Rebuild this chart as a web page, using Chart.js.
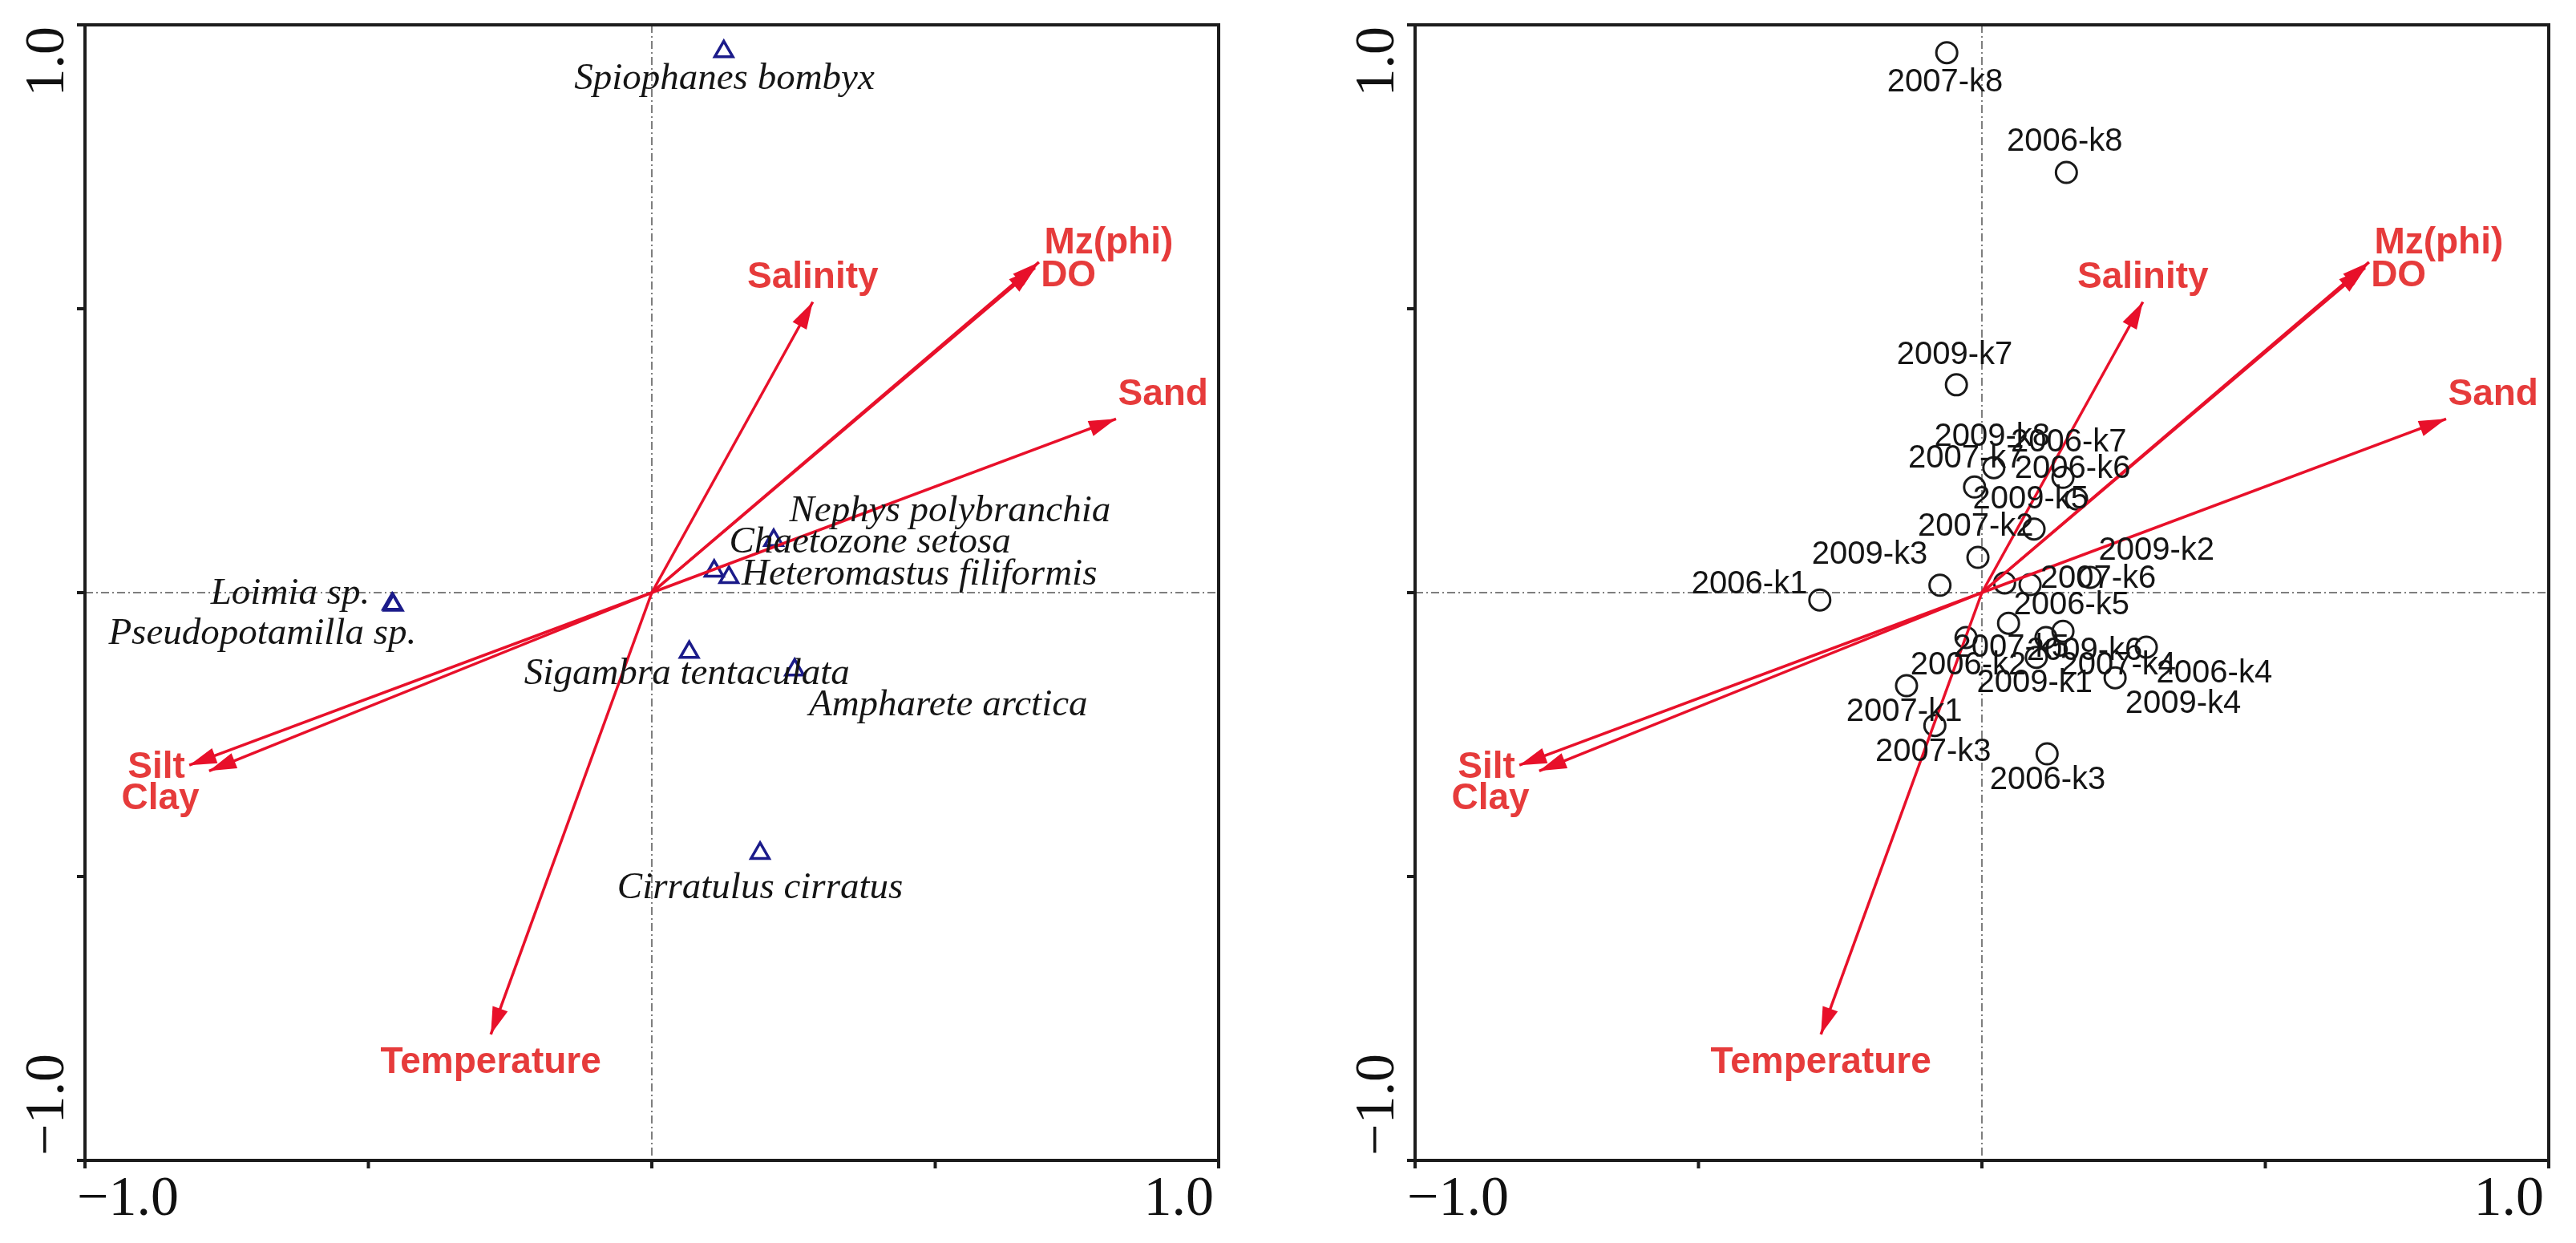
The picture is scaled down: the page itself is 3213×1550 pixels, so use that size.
<!DOCTYPE html>
<html>
<head>
<meta charset="utf-8">
<script src="https://cdn.jsdelivr.net/npm/chart.js@4.4.1/dist/chart.umd.min.js"></script>
<style>
  html, body { margin: 0; padding: 0; background: #fff; }
  #wrap { position: relative; width: 3213px; height: 1550px; }
  .panel { position: absolute; top: 0; }
</style>
</head>
<body>
<div id="wrap">
  <div class="panel" style="left:0"><canvas id="speciesChart" width="1606" height="1550"></canvas></div>
  <div class="panel" style="left:1606px"><canvas id="samplesChart" width="1607" height="1550"></canvas></div>
</div>
<script>
// ---- environmental variables (biplot arrows, same in both panels) ----
const envNames  = ['Salinity', 'Mz(phi)', 'DO', 'Sand', 'Silt', 'Clay', 'Temperature'];
const envX      = [0.284, 0.683, 0.676, 0.819, -0.816, -0.781, -0.284];
const envY      = [0.512, 0.582, 0.572, 0.306, -0.304, -0.314, -0.778];
const envLabelX = [0.284, 0.806, 0.735, 0.902, -0.874, -0.867, -0.284];
const envLabelY = [0.555, 0.616, 0.558, 0.349, -0.308, -0.363, -0.828];

// ---- species scores (left panel) ----
const speciesNames  = ['Spiophanes bombyx', 'Nephys polybranchia', 'Chaetozone setosa', 'Heteromastus filiformis',
                       'Loimia sp.', 'Pseudopotamilla sp.', 'Sigambra tentaculata', 'Ampharete arctica', 'Cirratulus cirratus'];
const speciesX      = [0.127, 0.215, 0.110, 0.136, -0.458, -0.456, 0.066, 0.252, 0.191];
const speciesY      = [0.953, 0.092, 0.038, 0.027, -0.020, -0.022, -0.105, -0.136, -0.459];
const speciesLabelX = [0.128, 0.526, 0.385, 0.472, -0.638, -0.687, 0.062, 0.523, 0.191];
const speciesLabelY = [0.904, 0.143, 0.088, 0.031, -0.003, -0.073, -0.143, -0.199, -0.520];

// ---- sample scores (right panel) ----
const sampleNames  = ['2007-k8', '2006-k8', '2009-k7', '2009-k8', '2007-k7', '2006-k7', '2006-k6', '2009-k5',
                      '2007-k2', '2009-k3', '2006-k1', '2007-k6', '2009-k2', '2006-k5', '2007-k4', '2006-k2',
                      '2007-k5', '2009-k6', '2009-k1', '2006-k4', '2009-k4', '2007-k1', '2007-k3', '2006-k3'];
const sampleX      = [-0.062, 0.149, -0.045, 0.021, -0.013, 0.143, 0.167, 0.092,
                      -0.007, -0.074, -0.286, 0.085, 0.191, 0.047, 0.040, -0.028,
                      0.113, 0.143, 0.096, 0.290, 0.235, -0.133, -0.083, 0.115];
const sampleY      = [0.951, 0.740, 0.366, 0.220, 0.186, 0.203, 0.165, 0.112,
                      0.062, 0.013, -0.013, 0.014, 0.027, -0.054, 0.017, -0.079,
                      -0.079, -0.068, -0.114, -0.096, -0.150, -0.164, -0.234, -0.284];
const sampleLabelX = [-0.065, 0.146, -0.048, 0.018, -0.028, 0.153, 0.160, 0.086,
                      -0.011, -0.198, -0.410, 0.205, 0.308, 0.158, 0.240, -0.024,
                      0.052, 0.181, 0.093, 0.410, 0.355, -0.137, -0.086, 0.116];
const sampleLabelY = [0.898, 0.794, 0.418, 0.274, 0.236, 0.264, 0.218, 0.164,
                      0.116, 0.066, 0.014, 0.024, 0.073, -0.023, -0.129, -0.129,
                      -0.097, -0.103, -0.160, -0.143, -0.196, -0.210, -0.281, -0.331];

// ---- axes ----
const axisTicks = [-1, -0.5, 0, 0.5, 1];
const axisMinLabel = '\u22121.0';
const axisMaxLabel = '1.0';

const ARROW_RED = '#e8102a';
const LABEL_RED = '#e63b3b';

// frame, zero lines, ticks and the two end labels of each axis
const frameAndAxes = {
    id: 'frameAndAxes',
    beforeDatasetsDraw(chart) {
        const { ctx, chartArea: a, scales: { x, y } } = chart;
        ctx.save();
        ctx.strokeStyle = '#7e7e7e';
        ctx.lineWidth = 2;
        ctx.setLineDash([10, 4, 2, 4]);
        ctx.beginPath();
        ctx.moveTo(x.getPixelForValue(0), a.top);
        ctx.lineTo(x.getPixelForValue(0), a.bottom);
        ctx.moveTo(a.left, y.getPixelForValue(0));
        ctx.lineTo(a.right, y.getPixelForValue(0));
        ctx.stroke();
        ctx.setLineDash([]);

        ctx.strokeStyle = '#1c1c1c';
        ctx.lineWidth = 4;
        ctx.strokeRect(a.left, a.top, a.right - a.left, a.bottom - a.top);
        ctx.beginPath();
        axisTicks.forEach(v => {
            const px = x.getPixelForValue(v);
            const py = y.getPixelForValue(v);
            ctx.moveTo(px, a.bottom);
            ctx.lineTo(px, a.bottom + 10);
            ctx.moveTo(a.left, py);
            ctx.lineTo(a.left - 10, py);
        });
        ctx.stroke();

        ctx.fillStyle = '#111';
        ctx.font = '70px "Liberation Serif"';
        ctx.textBaseline = 'alphabetic';
        ctx.textAlign = 'left';
        ctx.fillText(axisMinLabel, x.getPixelForValue(-1) - 10, a.bottom + 68);
        ctx.textAlign = 'right';
        ctx.fillText(axisMaxLabel, x.getPixelForValue(1) - 6, a.bottom + 68);

        ctx.save();
        ctx.translate(a.left - 27, y.getPixelForValue(1) + 2);
        ctx.rotate(-Math.PI / 2);
        ctx.textAlign = 'right';
        ctx.fillText(axisMaxLabel, 0, 0);
        ctx.restore();

        ctx.save();
        ctx.translate(a.left - 27, y.getPixelForValue(-1) - 6);
        ctx.rotate(-Math.PI / 2);
        ctx.textAlign = 'left';
        ctx.fillText(axisMinLabel, 0, 0);
        ctx.restore();
        ctx.restore();
    }
};

// arrow heads and all text labels
const biplotLabels = {
    id: 'biplotLabels',
    afterDatasetsDraw(chart, args, opts) {
        const { ctx, scales: { x, y } } = chart;
        const x0 = x.getPixelForValue(0);
        const y0 = y.getPixelForValue(0);
        ctx.save();
        ctx.fillStyle = ARROW_RED;
        envX.forEach((vx, i) => {
            const x1 = x.getPixelForValue(vx);
            const y1 = y.getPixelForValue(envY[i]);
            const ang = Math.atan2(y1 - y0, x1 - x0);
            const L = 34, W = 10;
            const bx = x1 - L * Math.cos(ang), by = y1 - L * Math.sin(ang);
            ctx.beginPath();
            ctx.moveTo(x1, y1);
            ctx.lineTo(bx + W * Math.sin(ang), by - W * Math.cos(ang));
            ctx.lineTo(bx - W * Math.sin(ang), by + W * Math.cos(ang));
            ctx.closePath();
            ctx.fill();
        });

        ctx.textAlign = 'center';
        ctx.textBaseline = 'middle';
        ctx.fillStyle = LABEL_RED;
        ctx.font = 'bold 46px "Liberation Sans"';
        envNames.forEach((n, i) => {
            ctx.fillText(n, x.getPixelForValue(envLabelX[i]), y.getPixelForValue(envLabelY[i]));
        });

        ctx.fillStyle = '#151515';
        ctx.font = opts.font;
        opts.names.forEach((n, i) => {
            ctx.fillText(n, x.getPixelForValue(opts.lx[i]), y.getPixelForValue(opts.ly[i]));
        });
        ctx.restore();
    }
};

function arrowDatasets() {
    return envNames.map((n, i) => ({
        label: n,
        data: [{ x: 0, y: 0 }, { x: envX[i], y: envY[i] }],
        showLine: true,
        borderColor: ARROW_RED,
        borderWidth: 3.5,
        pointRadius: 0
    }));
}

function makeChart(canvasId, pointSet, labelOpts, padding) {
    return new Chart(document.getElementById(canvasId), {
        type: 'scatter',
        data: { datasets: [...arrowDatasets(), pointSet] },
        options: {
            responsive: false,
            animation: false,
            devicePixelRatio: 1,
            layout: { padding: padding },
            scales: {
                x: { type: 'linear', min: -1, max: 1, display: false },
                y: { type: 'linear', min: -1, max: 1, display: false }
            },
            plugins: {
                legend: { display: false },
                tooltip: { enabled: false },
                biplotLabels: labelOpts
            }
        },
        plugins: [frameAndAxes, biplotLabels]
    });
}

makeChart('speciesChart', {
    label: 'species',
    data: speciesX.map((v, i) => ({ x: v, y: speciesY[i] })),
    pointStyle: 'triangle',
    pointRadius: 13,
    borderWidth: 3.5,
    borderColor: '#1b1b8a',
    backgroundColor: 'rgba(0,0,0,0)'
}, {
    names: speciesNames, lx: speciesLabelX, ly: speciesLabelY,
    font: 'italic 47px "Liberation Serif"'
}, { left: 106, top: 31, right: 86, bottom: 103 });

makeChart('samplesChart', {
    label: 'samples',
    data: sampleX.map((v, i) => ({ x: v, y: sampleY[i] })),
    pointStyle: 'circle',
    pointRadius: 13,
    borderWidth: 3,
    borderColor: '#1a1a1a',
    backgroundColor: 'rgba(0,0,0,0)'
}, {
    names: sampleNames, lx: sampleLabelX, ly: sampleLabelY,
    font: '40px "Liberation Sans"'
}, { left: 159, top: 31, right: 34, bottom: 103 });
</script>
</body>
</html>
